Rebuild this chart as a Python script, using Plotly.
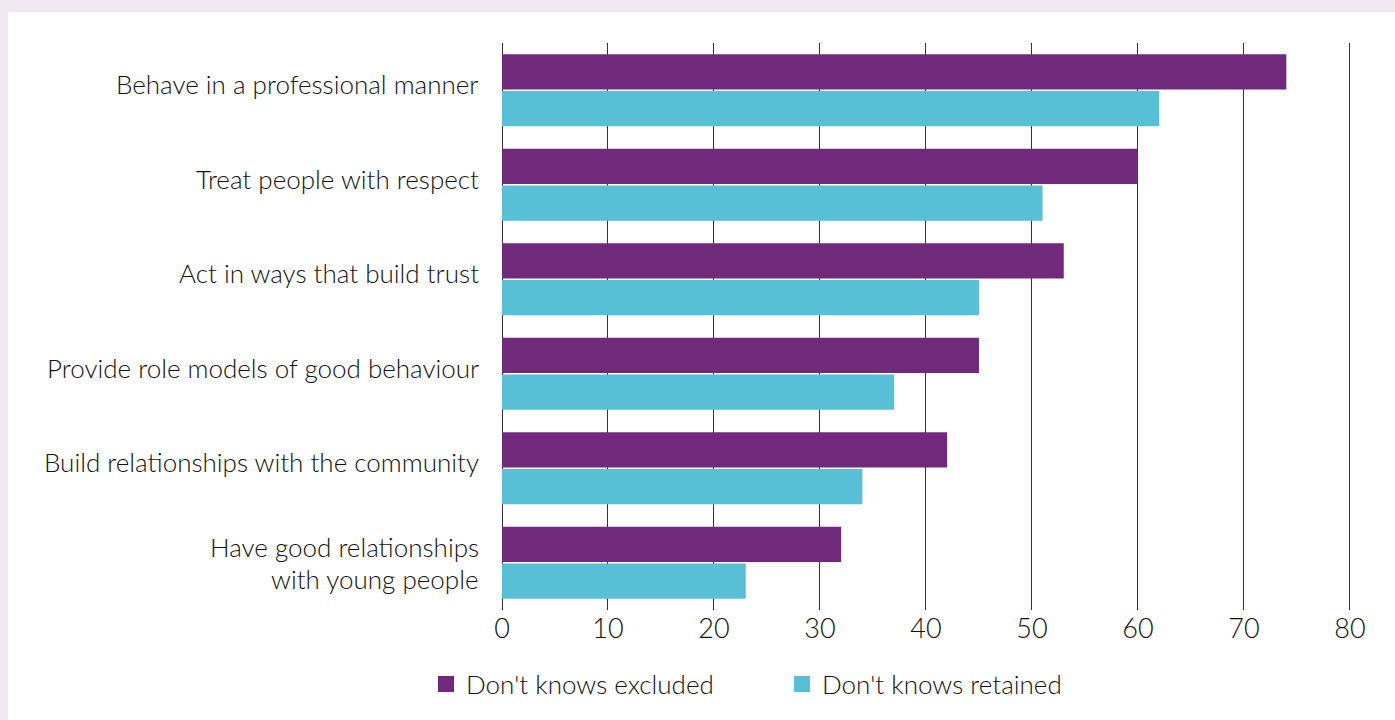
import plotly.graph_objects as go

categories = [
    "Behave in a professional manner",
    "Treat people with respect",
    "Act in ways that build trust",
    "Provide role models of good behaviour",
    "Build relationships with the community",
    "Have good relationships<br>with young people",
]
excluded = [74, 60, 53, 45, 42, 32]
retained = [62, 51, 45, 37, 34, 23]
series_names = ["Don't knows excluded", "Don't knows retained"]
x_ticks = [0, 10, 20, 30, 40, 50, 60, 70, 80]

PURPLE = "#712A7B"
CYAN = "#57C0D6"
FONT = "Lato"
TXT = "#111111"

W, H = 1395, 720
L, R, T, B = 502, 44, 43, 110
pw, ph = W - L - R, H - T - B

fig = go.Figure()
# plotly draws the first trace of a horizontal group at the bottom
fig.add_trace(go.Bar(y=categories, x=retained, orientation="h", name=series_names[1],
                     marker=dict(color=CYAN, line=dict(width=0)), showlegend=False))
fig.add_trace(go.Bar(y=categories, x=excluded, orientation="h", name=series_names[0],
                     marker=dict(color=PURPLE, line=dict(width=0)), showlegend=False))
# legend proxies
for nm, col in zip(series_names, [PURPLE, CYAN]):
    fig.add_trace(go.Scatter(x=[None], y=[None], mode="markers", name=nm,
                             marker=dict(symbol="square", size=16, color=col)))

def px_x(p):
    return (p - L) / pw

def px_y(p):
    return (H - B - p) / ph

annotations = []
for c in categories:
    lines = c.split("<br>")
    if len(lines) == 1:
        shifts = [6]
    else:
        shifts = [16, -16]
    for ln, ys in zip(lines, shifts):
        annotations.append(dict(
            x=0, y=c, xref="x", yref="y", text=ln, showarrow=False,
            xanchor="right", yanchor="middle", align="right", xshift=-21,
            yshift=ys,
            font=dict(family=FONT, size=26, color=TXT, weight=300)))

fig.update_layout(
    width=W, height=H,
    margin=dict(l=L, r=R, t=T, b=B, pad=0),
    paper_bgcolor="#F0E9F1",
    plot_bgcolor="rgba(0,0,0,0)",
    barmode="group",
    bargap=0.22,
    bargroupgap=0.04,
    font=dict(family=FONT, color=TXT, size=23, weight=300),
    showlegend=True,
    legend=dict(orientation="h", x=px_x(426), xanchor="left", y=px_y(684), yanchor="middle",
                font=dict(family=FONT, size=26, color=TXT, weight=300), entrywidth=311,
                bgcolor="rgba(0,0,0,0)", itemclick=False, traceorder="normal"),
    annotations=annotations,
    shapes=[dict(type="rect", xref="paper", yref="paper", layer="below",
                 x0=px_x(8), x1=px_x(W + 5), y0=px_y(H + 5), y1=px_y(12),
                 fillcolor="white", line=dict(width=0))],
    xaxis=dict(range=[0, 80.1], tickvals=x_ticks, showgrid=True, gridcolor="#333333",
               gridwidth=1, zeroline=True, zerolinecolor="#333333", zerolinewidth=1,
               showline=False, ticks="", tickfont=dict(size=27, family=FONT, color=TXT, weight=300),
               fixedrange=True),
    yaxis=dict(categoryorder="array", categoryarray=categories[::-1], autorange=False,
               range=[-0.5, 5.5], showgrid=False, ticks="", showticklabels=False,
               fixedrange=True),
)
fig.write_html("out.html")
